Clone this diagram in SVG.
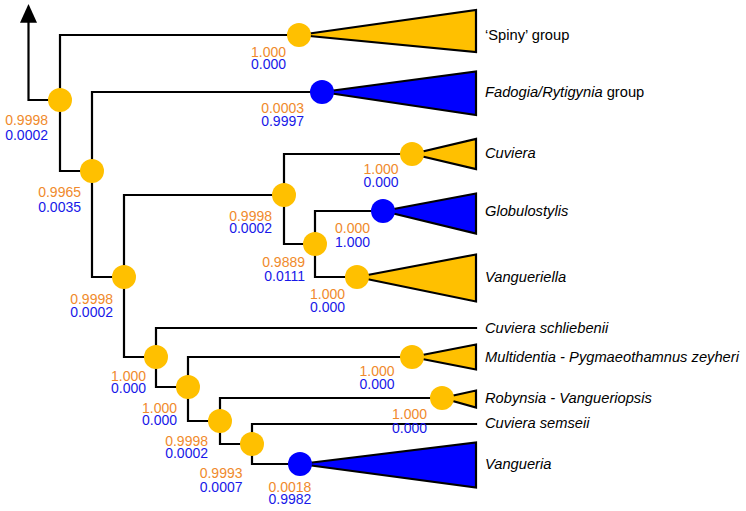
<svg xmlns="http://www.w3.org/2000/svg" width="746" height="511" viewBox="0 0 746 511">
<style>
.e{fill:none;stroke:#000;stroke-width:2.2;stroke-linecap:square}
.ty{fill:#FFC000;stroke:#000;stroke-width:2.2;stroke-linejoin:miter}
.tb{fill:#0000FF;stroke:#000;stroke-width:2.2;stroke-linejoin:miter}
.ny{fill:#FFC000}
.nb{fill:#0000FF}
.o{fill:#F08A2C;font-family:"Liberation Sans",Arial,sans-serif;font-size:14px;text-anchor:end}
.b{fill:#1818E8;font-family:"Liberation Sans",Arial,sans-serif;font-size:14px;text-anchor:end}
.c{text-anchor:middle}
.l{fill:#000;font-family:"Liberation Sans",Arial,sans-serif;font-size:14.7px}
.i{font-style:italic}
</style>
<defs>
<marker id="ah" markerWidth="10" markerHeight="10" refX="5" refY="0" viewBox="-1 -1 12 12" markerUnits="userSpaceOnUse" orient="auto" overflow="visible"/>
</defs>
<g id="connectors">
<path class="e" d="M28.5,22 V100 H60"/>
<polygon points="28.5,4 20,22.7 37,22.7" fill="#000"/>
<path class="e" d="M299,35 H60 V171 H92"/>
<path class="e" d="M322,92 H92 V277 H124"/>
<path class="e" d="M284,195 H124 V357 H156"/>
<path class="e" d="M412,154 H284 V244 H315"/>
<path class="e" d="M383,211 H315 V277 H357"/>
<path class="e" d="M476,328 H156 V387 H188"/>
<path class="e" d="M412,357 H188 V421 H220"/>
<path class="e" d="M442,398 H220 V444 H252"/>
<path class="e" d="M476,424 H252 V464 H300"/>
</g>
<g id="spiny">
<polygon class="ty" points="299,35 476,10 476,52"/>
<circle class="ny" cx="299" cy="35" r="12"/>
<text class="o" x="286" y="57">1.000</text>
<text class="b" x="286" y="68.5">0.000</text>
<text class="l" x="485" y="40">‘Spiny’ group</text>
</g>
<g id="fadogia">
<polygon class="tb" points="322,92 476,71.5 476,115"/>
<circle class="nb" cx="322" cy="92" r="12"/>
<text class="o" x="304" y="113">0.0003</text>
<text class="b" x="304" y="125.5">0.9997</text>
<text class="l" x="485" y="97"><tspan class="i">Fadogia/Rytigynia</tspan> group</text>
</g>
<g id="cuviera">
<polygon class="ty" points="412,154 476,139 476,169"/>
<circle class="ny" cx="412" cy="154" r="12"/>
<text class="o" x="398.5" y="174">1.000</text>
<text class="b" x="398.5" y="186.5">0.000</text>
<text class="l i" x="485" y="158">Cuviera</text>
</g>
<g id="globulostylis">
<polygon class="tb" points="383,211 476,193.5 476,233.5"/>
<circle class="nb" cx="383" cy="211" r="12"/>
<text class="o" x="370" y="233">0.000</text>
<text class="b" x="370" y="246.5">1.000</text>
<text class="l i" x="485" y="216">Globulostylis</text>
</g>
<g id="vangueriella">
<polygon class="ty" points="357,277 476,254.5 476,301.5"/>
<circle class="ny" cx="357" cy="277" r="12"/>
<text class="o" x="345" y="299">1.000</text>
<text class="b" x="345" y="311.5">0.000</text>
<text class="l i" x="485" y="282">Vangueriella</text>
</g>
<g id="schliebenii">
<text class="l i" x="485" y="333">Cuviera schliebenii</text>
</g>
<g id="multidentia">
<polygon class="ty" points="412,357 476,344.5 476,369.5"/>
<circle class="ny" cx="412" cy="357" r="12"/>
<text class="o" x="394.5" y="376">1.000</text>
<text class="b" x="394.5" y="389">0.000</text>
<text class="l i" x="485" y="362">Multidentia - Pygmaeothamnus zeyheri</text>
</g>
<g id="robynsia">
<polygon class="ty" points="442,398 476,390.5 476,407.5"/>
<circle class="ny" cx="442" cy="398" r="12"/>
<text class="o" x="427" y="419">1.000</text>
<text class="b" x="427" y="432.5">0.000</text>
<text class="l i" x="485" y="403">Robynsia - Vangueriopsis</text>
</g>
<g id="semseii">
<text class="l i" x="485" y="428">Cuviera semseii</text>
</g>
<g id="vangueria">
<polygon class="tb" points="300,464 476,442.5 476,487.5"/>
<circle class="nb" cx="300" cy="464" r="12"/>
<text class="o c" x="290" y="491.5">0.0018</text>
<text class="b c" x="290" y="504">0.9982</text>
<text class="l i" x="485" y="469">Vangueria</text>
</g>
<g id="n1">
<circle class="ny" cx="60" cy="100" r="12"/>
<text class="o" x="48" y="125">0.9998</text>
<text class="b" x="48" y="139.5">0.0002</text>
</g>
<g id="n2">
<circle class="ny" cx="92" cy="171" r="12"/>
<text class="o" x="81" y="197">0.9965</text>
<text class="b" x="81" y="212">0.0035</text>
</g>
<g id="n3">
<circle class="ny" cx="124" cy="277" r="12"/>
<text class="o" x="113" y="304">0.9998</text>
<text class="b" x="113" y="317">0.0002</text>
</g>
<g id="n4">
<circle class="ny" cx="284" cy="195" r="12"/>
<text class="o" x="272" y="220.5">0.9998</text>
<text class="b" x="272" y="232.5">0.0002</text>
</g>
<g id="n5">
<circle class="ny" cx="315" cy="244" r="12"/>
<text class="o" x="305" y="267">0.9889</text>
<text class="b" x="305" y="280.5">0.0111</text>
</g>
<g id="n6">
<circle class="ny" cx="156" cy="357" r="12"/>
<text class="o" x="146" y="381">1.000</text>
<text class="b" x="146" y="392.5">0.000</text>
</g>
<g id="n7">
<circle class="ny" cx="188" cy="387" r="12"/>
<text class="o" x="177" y="412.5">1.000</text>
<text class="b" x="177" y="425">0.000</text>
</g>
<g id="n8">
<circle class="ny" cx="220" cy="421" r="12"/>
<text class="o" x="208" y="445.5">0.9998</text>
<text class="b" x="208" y="458">0.0002</text>
</g>
<g id="n9">
<circle class="ny" cx="252" cy="444" r="12"/>
<text class="o" x="242.5" y="477.5">0.9993</text>
<text class="b" x="242.5" y="491.5">0.0007</text>
</g>
</svg>
